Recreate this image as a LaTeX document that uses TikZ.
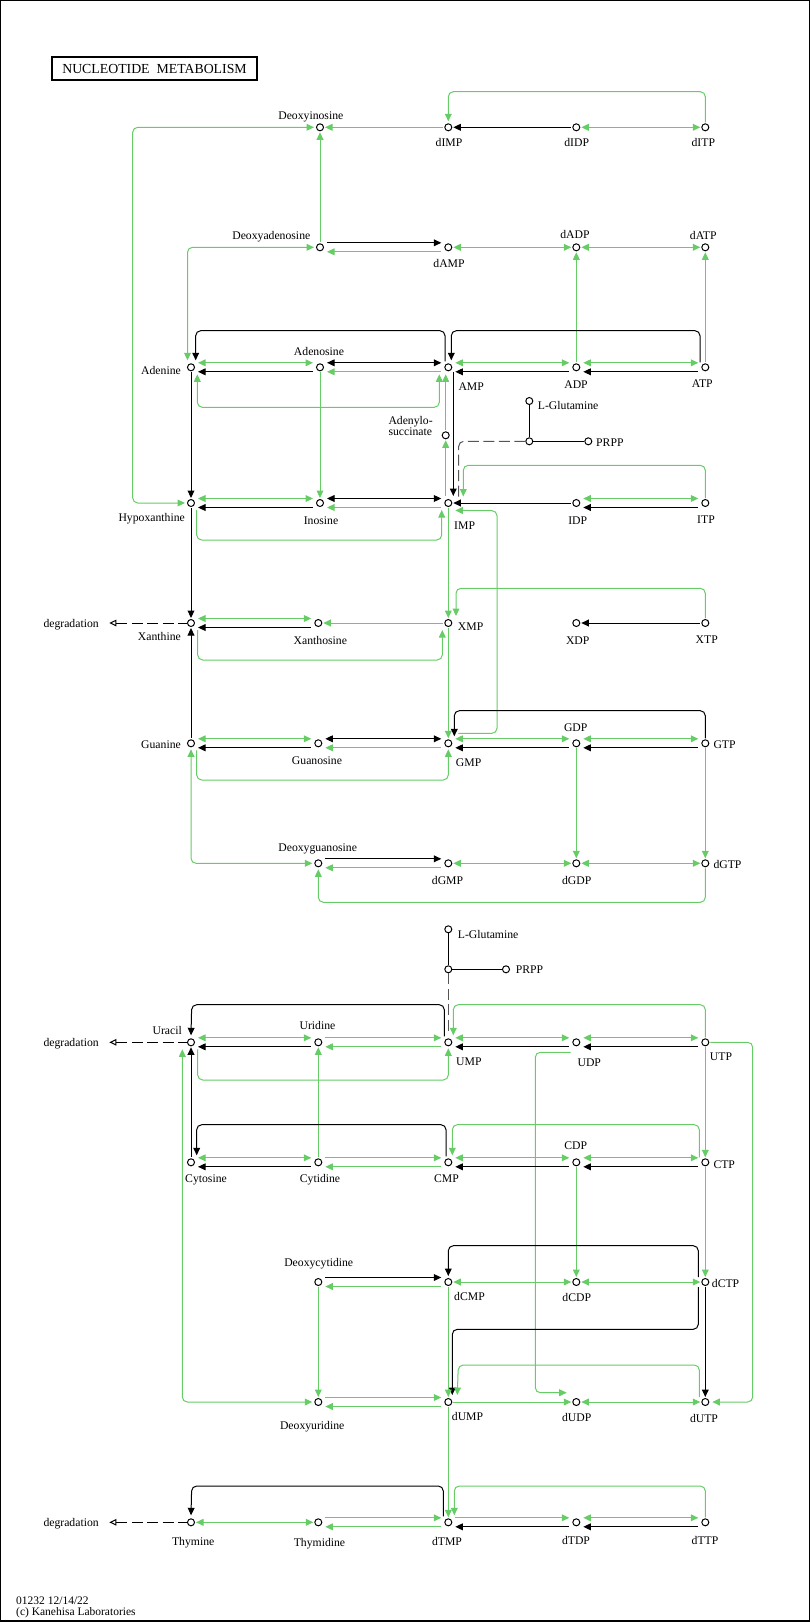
\documentclass[tikz,border=0pt]{standalone}
\usepackage{fontspec}
\setmainfont{Liberation Serif}
\usetikzlibrary{arrows.meta}
\definecolor{kgreen}{RGB}{102,204,102}
\definecolor{dgrey}{RGB}{85,85,85}
\newcommand\rxT[3]{\draw[#1] ([shift={(7pt,4.5pt)}]#2.center) -- ([shift={(-7pt,4.5pt)}]#3.center);}
\newcommand\rxB[3]{\draw[#1] ([shift={(7pt,-4.5pt)}]#2.center) -- ([shift={(-7pt,-4.5pt)}]#3.center);}
\newcommand\rxC[3]{\draw[#1] ([xshift=5pt]#2.center) -- ([xshift=-5pt]#3.center);}
\newcommand\rxV[3]{\draw[#1] ([yshift=-5pt]#2.center) -- ([yshift=5pt]#3.center);}
\begin{document}
\begin{tikzpicture}[x=1pt,y=-1pt,
  >={Triangle[length=7.5pt,width=6.8pt]},
  cpd/.style={circle,draw=black,fill=white,inner sep=0pt,minimum size=7pt,line width=1pt},
  gl/.style={draw=kgreen,line width=1pt},
  kl/.style={draw=black,line width=1pt},
  dsh/.style={draw=dgrey,line width=1pt,dash pattern=on 11pt off 4.5pt},
  rc/.style={rounded corners=5pt},
  lbl/.style={font=\fontsize{11.7}{12}\selectfont,inner sep=0pt,yshift=-4.2pt},
  degl/.style={draw=black,line width=1pt,dash pattern=on 11pt off 4.5pt,{Triangle[open,length=7pt,width=6.5pt]}-}
]
\useasboundingbox (0,0) rectangle (810,1622);
\draw[line width=1.4pt] (0.7,0.7) rectangle (809.3,1620.9);

\node[draw,line width=2pt,minimum width=205.6pt,minimum height=23.6pt,inner sep=0pt,
  font=\fontsize{13.8}{14}\selectfont] (title) at (154.5,68.5) {NUCLEOTIDE\ \ METABOLISM};

% ---------- compounds ----------
\node[cpd] (dIno) at (320,127.3) {};
\node[cpd] (dIMP) at (448.3,127.3) {};
\node[cpd] (dIDP) at (576.3,127.3) {};
\node[cpd] (dITP) at (705.3,127.3) {};
\node[cpd] (dAdo) at (320,247.3) {};
\node[cpd] (dAMP) at (448.3,247.3) {};
\node[cpd] (dADP) at (576.3,247.3) {};
\node[cpd] (dATP) at (705.3,247.3) {};
\node[cpd] (Ade) at (191,367.3) {};
\node[cpd] (Ado) at (320,367.3) {};
\node[cpd] (AMP) at (448.3,367.3) {};
\node[cpd] (ADP) at (576.3,367.3) {};
\node[cpd] (ATP) at (705.3,367.3) {};
\node[cpd] (AdSucc) at (445.7,435.3) {};
\node[cpd] (Gln1) at (529.3,401) {};
\node[cpd] (J1) at (529.3,441.3) {};
\node[cpd] (PRPP1) at (588.3,441.3) {};
\node[cpd] (Hyp) at (191,503) {};
\node[cpd] (Ino) at (320,503) {};
\node[cpd] (IMP) at (448.3,503) {};
\node[cpd] (IDP) at (576.3,503) {};
\node[cpd] (ITP) at (705.3,503) {};
\node[cpd] (Xan) at (191,623) {};
\node[cpd] (Xao) at (318.3,623) {};
\node[cpd] (XMP) at (448.3,623) {};
\node[cpd] (XDP) at (576.3,623) {};
\node[cpd] (XTP) at (705.3,623) {};
\node[cpd] (Gua) at (191,743.3) {};
\node[cpd] (Guo) at (318.3,743.3) {};
\node[cpd] (GMP) at (448.3,743.3) {};
\node[cpd] (GDP) at (576.3,743.3) {};
\node[cpd] (GTP) at (705.3,743.3) {};
\node[cpd] (dGuo) at (318.3,863.3) {};
\node[cpd] (dGMP) at (448.3,863.3) {};
\node[cpd] (dGDP) at (576.3,863.3) {};
\node[cpd] (dGTP) at (705.3,863.3) {};
\node[cpd] (Gln2) at (448.3,929.3) {};
\node[cpd] (J2) at (448.3,969.3) {};
\node[cpd] (PRPP2) at (506,969.3) {};
\node[cpd] (Ura) at (191,1042.3) {};
\node[cpd] (Urd) at (318.3,1042.3) {};
\node[cpd] (UMP) at (448.3,1042.3) {};
\node[cpd] (UDP) at (576.3,1042.3) {};
\node[cpd] (UTP) at (705.3,1042.3) {};
\node[cpd] (Cyt) at (191,1162.3) {};
\node[cpd] (Cyd) at (318.3,1162.3) {};
\node[cpd] (CMP) at (448.3,1162.3) {};
\node[cpd] (CDP) at (576.3,1162.3) {};
\node[cpd] (CTP) at (705.3,1162.3) {};
\node[cpd] (dCyd) at (318.3,1282) {};
\node[cpd] (dCMP) at (448.3,1282) {};
\node[cpd] (dCDP) at (576.3,1282) {};
\node[cpd] (dCTP) at (705.3,1282) {};
\node[cpd] (dUrd) at (318.3,1402) {};
\node[cpd] (dUMP) at (448.3,1402) {};
\node[cpd] (dUDP) at (576.3,1402) {};
\node[cpd] (dUTP) at (705.3,1402) {};
\node[cpd] (Thy) at (191,1522.3) {};
\node[cpd] (Thd) at (318.3,1522.3) {};
\node[cpd] (dTMP) at (448.3,1522.3) {};
\node[cpd] (dTDP) at (576.3,1522.3) {};
\node[cpd] (dTTP) at (705.3,1522.3) {};
\coordinate (dg1) at (109.3,623);
\coordinate (dg2) at (109.3,1042.3);
\coordinate (dg3) at (109.3,1522.3);

% ---------- row dIMP ----------
\rxC{kl,<-}{dIMP}{dIDP}
\rxC{gl,<->}{dIDP}{dITP}
\rxC{gl,<-}{dIno}{dIMP}
\rxV{gl,<-}{dIno}{dAdo}
\draw[gl,->,rc] ([yshift=5pt]dITP.center) -- (705.3,91.7) -- (448.3,91.7) -- ([yshift=6pt]dIMP.center);
\draw[gl,<->,rc] ([xshift=-6pt]Hyp.center) -- (132.7,503) -- (132.7,127.3) -- ([xshift=-6pt]dIno.center);

% ---------- row dAMP ----------
\rxT{kl,->}{dAdo}{dAMP}
\rxB{gl,<-}{dAdo}{dAMP}
\rxC{gl,<->}{dAMP}{dADP}
\rxC{gl,<->}{dADP}{dATP}
\rxV{gl,<-}{dADP}{ADP}
\rxV{gl,<-}{dATP}{ATP}
\draw[gl,<->,rc] ([xshift=-6pt]dAdo.center) -- (187.5,247.3) -- ([shift={(-3.5pt,7pt)}]Ade.center);

% ---------- row AMP ----------
\rxT{gl,<->}{Ade}{Ado}
\rxB{kl,<-}{Ade}{Ado}
\rxT{kl,<->}{Ado}{AMP}
\rxB{gl,<-}{Ado}{AMP}
\rxT{gl,<->}{AMP}{ADP}
\rxB{kl,<-}{AMP}{ADP}
\rxT{gl,<->}{ADP}{ATP}
\rxB{kl,<-}{ADP}{ATP}
\draw[kl,->,rc] ([shift={(-3.3pt,6pt)}]AMP.center) -- (445,330.7) -- (195.7,330.7) -- ([shift={(4.7pt,7pt)}]Ade.center);
\draw[kl,->,rc] ([shift={(-5.3pt,5pt)}]ATP.center) -- (700,330.7) -- (451.3,330.7) -- ([shift={(3pt,7pt)}]AMP.center);
\draw[gl,<->,rc] ([shift={(6.3pt,-7pt)}]Ade.center) -- (197.3,407.3) -- (439.3,407.3) -- ([shift={(-9pt,-7pt)}]AMP.center);
\draw[gl,->] ([yshift=5pt]AdSucc.center) -- ([shift={(-2.6pt,-7pt)}]AMP.center);
\draw[gl,->] ([shift={(-2.6pt,7pt)}]IMP.center) -- ([yshift=-5pt]AdSucc.center);
\draw[kl,->] ([shift={(5pt,-5pt)}]AMP.center) -- ([shift={(5pt,7pt)}]IMP.center);
\rxV{gl,->}{Ado}{Ino}
\rxV{kl,->}{Ade}{Hyp}
\draw[kl] (Gln1) -- (J1);
\draw[kl] (J1) -- (PRPP1);
\draw[dsh,rc] (J1.west) -- (458.7,441.3) -- ([shift={(10.4pt,6pt)}]IMP.center);

% ---------- row IMP ----------
\rxT{gl,<->}{Hyp}{Ino}
\rxB{kl,<-}{Hyp}{Ino}
\rxT{kl,<->}{Ino}{IMP}
\rxB{gl,<-}{Ino}{IMP}
\rxC{kl,<-}{IMP}{IDP}
\rxT{gl,<->}{IDP}{ITP}
\rxB{kl,<-}{IDP}{ITP}
\draw[gl,->,rc] ([yshift=5pt]ITP.center) -- (705.3,465.3) -- (463.3,465.3) -- ([shift={(15pt,6.5pt)}]IMP.center);
\draw[gl,->,rc] ([shift={(5.7pt,-7pt)}]Hyp.center) -- (196.7,540) -- (441.7,540) -- ([shift={(-6.6pt,-7pt)}]IMP.center);
\draw[gl,->,rc] ([shift={(10pt,10pt)}]GMP.center) -- (497,733.3) -- (497,510.7) -- ([shift={(7pt,-7.4pt)}]IMP.center);
\rxV{gl,->}{IMP}{XMP}
\rxV{kl,->}{Hyp}{Xan}

% ---------- row XMP ----------
\rxT{gl,<->}{Xan}{Xao}
\rxB{kl,<-}{Xan}{Xao}
\rxC{gl,<-}{Xao}{XMP}
\rxC{kl,<-}{XDP}{XTP}
\draw[gl,->,rc] ([yshift=5pt]XTP.center) -- (705.3,588.3) -- (456,588.3) -- ([shift={(7.7pt,7pt)}]XMP.center);
\draw[gl,->,rc] ([shift={(6.7pt,-7pt)}]Xan.center) -- (197.7,660) -- (442.3,660) -- ([shift={(-6pt,-7pt)}]XMP.center);
\draw[degl] (dg1) -- (Xan.west);
\rxV{gl,->}{XMP}{GMP}
\rxV{kl,<-}{Xan}{Gua}

% ---------- row GMP ----------
\rxT{gl,<->}{Gua}{Guo}
\rxB{kl,<-}{Gua}{Guo}
\rxT{kl,<->}{Guo}{GMP}
\rxB{gl,<-}{Guo}{GMP}
\rxT{gl,<->}{GMP}{GDP}
\rxB{kl,<-}{GMP}{GDP}
\rxT{gl,<->}{GDP}{GTP}
\rxB{kl,<-}{GDP}{GTP}
\draw[kl,->,rc] ([yshift=5pt]GTP.center) -- (705.3,710.7) -- (454.3,710.7) -- ([shift={(6pt,7pt)}]GMP.center);
\draw[gl,->,rc] ([shift={(5.7pt,-7pt)}]Gua.center) -- (196.7,780) -- (448.3,780) -- ([yshift=-6pt]GMP.center);
\draw[gl,<->,rc] ([yshift=-6pt]Gua.center) -- (191,863.3) -- ([xshift=-6pt]dGuo.center);
\rxV{gl,->}{GDP}{dGDP}
\rxV{gl,->}{GTP}{dGTP}

% ---------- row dGMP ----------
\rxT{kl,->}{dGuo}{dGMP}
\rxB{gl,<-}{dGuo}{dGMP}
\rxC{gl,<->}{dGMP}{dGDP}
\rxC{gl,<->}{dGDP}{dGTP}
\draw[gl,->,rc] ([yshift=-5pt]dGTP.center) -- (705.3,902.3) -- (318.3,902.3) -- ([yshift=-6pt]dGuo.center);

% ---------- row UMP ----------
\draw[kl] (Gln2) -- (J2);
\draw[kl] (J2) -- (PRPP2);
\draw[dsh] (J2.south) -- ([yshift=8pt]UMP.center);
\rxT{gl,<->}{Ura}{Urd}
\rxB{kl,<-}{Ura}{Urd}
\rxT{gl,->}{Urd}{UMP}
\rxB{gl,<-}{Urd}{UMP}
\rxT{gl,<->}{UMP}{UDP}
\rxB{kl,<-}{UMP}{UDP}
\rxT{gl,<->}{UDP}{UTP}
\rxB{kl,<-}{UDP}{UTP}
\draw[gl,->,rc] ([yshift=5pt]UTP.center) -- (705.3,1004.7) -- (453.3,1004.7) -- ([shift={(5pt,7pt)}]UMP.center);
\draw[kl,->,rc] ([shift={(-4pt,6pt)}]UMP.center) -- (444.3,1004.7) -- (191.7,1004.7) -- ([yshift=7pt]Ura.center);
\draw[gl,->,rc] ([shift={(6.7pt,-7pt)}]Ura.center) -- (197.7,1080) -- (448.3,1080) -- ([yshift=-6pt]UMP.center);
\draw[degl] (dg2) -- (Ura.west);
\rxV{gl,<-}{Urd}{Cyd}
\rxV{kl,<-}{Ura}{Cyt}
\rxV{gl,->}{UTP}{CTP}
\draw[gl,<->,rc] ([xshift=-6pt]dUrd.center) -- (182.3,1402) -- ([shift={(-8.7pt,-7pt)}]Ura.center);
\draw[gl,->,rc] ([shift={(-5.6pt,-10pt)}]UDP.center) -- (535.3,1052.3) -- (535.3,1392.7) -- ([shift={(-9.6pt,9.3pt)}]dUDP.center);
\draw[gl,->,rc] ([xshift=5pt]UTP.center) -- (752.7,1042.3) -- (752.7,1402) -- ([xshift=7pt]dUTP.center);

% ---------- row CMP ----------
\rxT{gl,<->}{Cyt}{Cyd}
\rxB{kl,<-}{Cyt}{Cyd}
\rxT{gl,->}{Cyd}{CMP}
\rxB{gl,<-}{Cyd}{CMP}
\rxT{gl,<->}{CMP}{CDP}
\rxB{kl,<-}{CMP}{CDP}
\rxT{gl,<->}{CDP}{CTP}
\rxB{kl,<-}{CDP}{CTP}
\draw[kl,->,rc] ([shift={(-2.3pt,6pt)}]CMP.center) -- (446,1124.7) -- (196.7,1124.7) -- ([shift={(5.7pt,7pt)}]Cyt.center);
\draw[gl,->,rc] ([shift={(-6pt,5pt)}]CTP.center) -- (699.3,1124.7) -- (452.3,1124.7) -- ([shift={(4pt,7pt)}]CMP.center);
\rxV{gl,->}{CDP}{dCDP}
\rxV{gl,->}{CTP}{dCTP}

% ---------- row dCMP ----------
\rxT{kl,->}{dCyd}{dCMP}
\rxB{gl,<-}{dCyd}{dCMP}
\rxC{gl,<->}{dCMP}{dCDP}
\rxC{gl,<->}{dCDP}{dCTP}
\draw[kl,->,rc] ([shift={(-7pt,5pt)}]dCTP.center) -- (698.3,1245.7) -- (448.3,1245.7) -- ([yshift=6pt]dCMP.center);
\draw[kl,->,rc] ([shift={(-7pt,-5pt)}]dCTP.center) -- (698.3,1329.3) -- (452.3,1329.3) -- ([shift={(4pt,7pt)}]dUMP.center);
\rxV{kl,->}{dCTP}{dUTP}
\rxV{gl,->}{dCMP}{dUMP}
\rxV{gl,->}{dCyd}{dUrd}
\draw[gl,->,rc] ([shift={(-6pt,5pt)}]dUTP.center) -- (699.3,1365) -- (458.3,1365) -- ([shift={(9pt,7pt)}]dUMP.center);

% ---------- row dUMP ----------
\rxT{gl,->}{dUrd}{dUMP}
\rxB{gl,<-}{dUrd}{dUMP}
\rxC{gl,->}{dUMP}{dUDP}
\rxC{gl,<->}{dUDP}{dUTP}
\rxV{gl,->}{dUMP}{dTMP}

% ---------- row dTMP ----------
\rxC{gl,<->}{Thy}{Thd}
\rxT{gl,->}{Thd}{dTMP}
\rxB{gl,<-}{Thd}{dTMP}
\rxT{gl,->}{dTMP}{dTDP}
\rxB{kl,<-}{dTMP}{dTDP}
\rxT{gl,<->}{dTDP}{dTTP}
\rxB{kl,<-}{dTDP}{dTTP}
\draw[kl,->,rc] ([shift={(-5pt,6pt)}]dTMP.center) -- (443.3,1486) -- (191.7,1486) -- ([yshift=7pt]Thy.center);
\draw[gl,->,rc] ([yshift=5pt]dTTP.center) -- (705.3,1486) -- (454.3,1486) -- ([shift={(6pt,7pt)}]dTMP.center);
\draw[degl] (dg3) -- (Thy.west);

% ---------- labels ----------
\node[lbl,anchor=base] (t1) at (310.8,115) {Deoxyinosine};
\node[lbl,anchor=base] (t2) at (271.3,235.7) {Deoxyadenosine};
\node[lbl,anchor=base] (t3) at (449,142.3) {dIMP};
\node[lbl,anchor=base] (t4) at (576.7,142.3) {dIDP};
\node[lbl,anchor=base] (t5) at (703.3,142.3) {dITP};
\node[lbl,anchor=base] (t6) at (449,263.7) {dAMP};
\node[lbl,anchor=base] (t7) at (575,234.3) {dADP};
\node[lbl,anchor=base] (t8) at (703.3,235) {dATP};
\node[lbl,anchor=base east] (t9) at (181,370) {Adenine};
\node[lbl,anchor=base] (t10) at (319,351) {Adenosine};
\node[lbl,anchor=base west] (t11) at (458.3,386.7) {AMP};
\node[lbl,anchor=base] (t12) at (576,384.3) {ADP};
\node[lbl,anchor=base] (t13) at (702.3,383.3) {ATP};
\node[lbl,anchor=base west] (t14) at (537.7,405) {L-Glutamine};
\node[lbl,anchor=base west] (t15) at (596,442.7) {PRPP};
\node[lbl,anchor=base west,align=left,font=\fontsize{11.7}{10.7}\selectfont] (t16) at (388.3,431) {Adenylo-\\succinate};
\node[lbl,anchor=base east] (t17) at (185,517.3) {Hypoxanthine};
\node[lbl,anchor=base] (t18) at (321,520.7) {Inosine};
\node[lbl,anchor=base west] (t19) at (454,525.3) {IMP};
\node[lbl,anchor=base] (t20) at (577.7,520.7) {IDP};
\node[lbl,anchor=base] (t21) at (706,519) {ITP};
\node[lbl,anchor=base west] (t22) at (43.3,623) {degradation};
\node[lbl,anchor=base east] (t23) at (181,636) {Xanthine};
\node[lbl,anchor=base] (t24) at (320.3,640) {Xanthosine};
\node[lbl,anchor=base west] (t25) at (457.7,626.7) {XMP};
\node[lbl,anchor=base] (t26) at (577.7,640) {XDP};
\node[lbl,anchor=base] (t27) at (706.7,639.3) {XTP};
\node[lbl,anchor=base east] (t28) at (181,744.3) {Guanine};
\node[lbl,anchor=base] (t29) at (317,760.7) {Guanosine};
\node[lbl,anchor=base west] (t30) at (455.7,762.3) {GMP};
\node[lbl,anchor=base] (t31) at (575.7,727.3) {GDP};
\node[lbl,anchor=base west] (t32) at (713.3,744) {GTP};
\node[lbl,anchor=base] (t33) at (317.7,847.3) {Deoxyguanosine};
\node[lbl,anchor=base] (t34) at (447.5,880.7) {dGMP};
\node[lbl,anchor=base] (t35) at (576.7,880.7) {dGDP};
\node[lbl,anchor=base west] (t36) at (713.3,864) {dGTP};
\node[lbl,anchor=base west] (t37) at (457.7,934.3) {L-Glutamine};
\node[lbl,anchor=base west] (t38) at (515.7,969.3) {PRPP};
\node[lbl,anchor=base west] (t39) at (43.3,1042.7) {degradation};
\node[lbl,anchor=base east] (t40) at (182,1030.3) {Uracil};
\node[lbl,anchor=base] (t41) at (317.5,1025.3) {Uridine};
\node[lbl,anchor=base west] (t42) at (456,1061.7) {UMP};
\node[lbl,anchor=base] (t43) at (589.3,1062.3) {UDP};
\node[lbl,anchor=base] (t44) at (721,1056.7) {UTP};
\node[lbl,anchor=base] (t45) at (206,1178) {Cytosine};
\node[lbl,anchor=base] (t46) at (320,1178) {Cytidine};
\node[lbl,anchor=base] (t47) at (446.5,1178) {CMP};
\node[lbl,anchor=base] (t48) at (575.7,1145.7) {CDP};
\node[lbl,anchor=base west] (t49) at (713.3,1164) {CTP};
\node[lbl,anchor=base] (t50) at (318.7,1262.7) {Deoxycytidine};
\node[lbl,anchor=base west] (t51) at (454,1296.7) {dCMP};
\node[lbl,anchor=base] (t52) at (576.7,1297.7) {dCDP};
\node[lbl,anchor=base west] (t53) at (711.7,1283.3) {dCTP};
\node[lbl,anchor=base] (t54) at (312.2,1425.7) {Deoxyuridine};
\node[lbl,anchor=base west] (t55) at (451.7,1416.7) {dUMP};
\node[lbl,anchor=base] (t56) at (576.7,1417.7) {dUDP};
\node[lbl,anchor=base] (t57) at (704,1418.3) {dUTP};
\node[lbl,anchor=base west] (t58) at (43.3,1522.7) {degradation};
\node[lbl,anchor=base] (t59) at (193.2,1541) {Thymine};
\node[lbl,anchor=base] (t60) at (319.5,1542.7) {Thymidine};
\node[lbl,anchor=base] (t61) at (447,1541.7) {dTMP};
\node[lbl,anchor=base] (t62) at (576,1540.7) {dTDP};
\node[lbl,anchor=base] (t63) at (705,1540) {dTTP};
\node[lbl,anchor=base west,font=\fontsize{11.5}{12}\selectfont] (f1) at (16,1600.7) {01232 12/14/22};
\node[lbl,anchor=base west,font=\fontsize{11.5}{12}\selectfont] (f2) at (16,1611.7) {(c) Kanehisa Laboratories};
\end{tikzpicture}
\end{document}
